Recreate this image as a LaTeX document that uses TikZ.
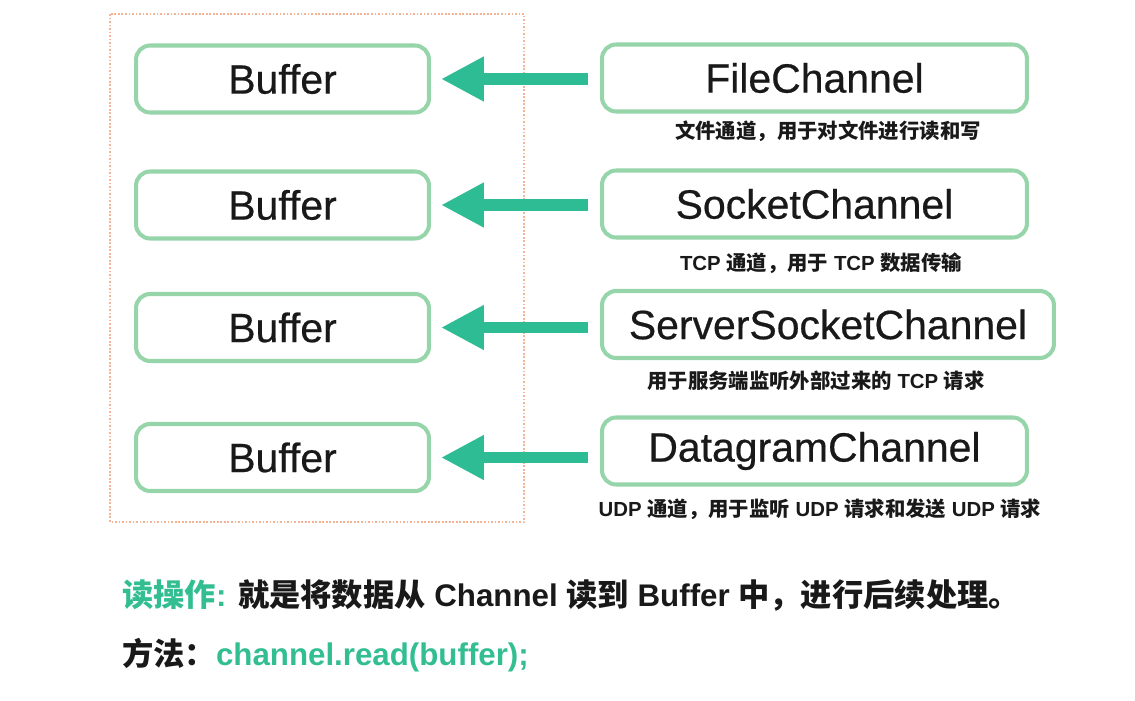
\documentclass[tikz,border=0pt]{standalone}
\usepackage{fontspec}
\setmainfont{Liberation Sans}
\newfontfamily\cjk{Noto Sans CJK SC}
\newfontfamily\boxfont{Liberation Sans}[FakeBold=0.5]
\usetikzlibrary{arrows.meta}
\definecolor{boxgreen}{HTML}{96D4A9}
\definecolor{arrowgreen}{HTML}{2EBC94}
\definecolor{frameorange}{HTML}{F4B495}
\definecolor{textgreen}{HTML}{33BE92}
\newcommand{\zh}[1]{{\cjk #1}}
\begin{document}
\begin{tikzpicture}[x=0.02cm,y=-0.02cm,
  box/.style={draw=boxgreen,line width=2.3pt,rounded corners=8pt,minimum height=1.34cm,
    inner sep=0pt,font=\boxfont\fontsize{23.3}{26}\selectfont,text=black!90},
  bufbox/.style={box,minimum width=5.86cm},
  chanbox/.style={box,minimum width=8.5cm,anchor=west},
  note/.style={font=\bfseries\fontsize{11.6}{14}\selectfont,text=black!90},
  flow/.style={draw=arrowgreen,line width=0.23cm,-{Triangle[length=0.86cm,width=0.84cm]},
    shorten <=0.24cm,shorten >=0.2cm},
  remark/.style={anchor=west,font=\bfseries\fontsize{17.8}{21}\selectfont,text=black!90}]
  \useasboundingbox (0,0) rectangle (1135,700);
  % buffer side
  \draw[frameorange,line width=1pt,dash pattern=on 1pt off 1pt] (110,14) rectangle (524,522);
  \node[bufbox] (b1) at (282.5,79) {Buffer};
  \node[bufbox] (b2) at (282.5,205) {Buffer};
  \node[bufbox] (b3) at (282.5,327.5) {Buffer};
  \node[bufbox] (b4) at (282.5,457.5) {Buffer};
  % channel side
  \node[chanbox] (c1) at (600,78) {FileChannel};
  \node[chanbox] (c2) at (600,204) {SocketChannel};
  \node[chanbox,minimum width=9.04cm] (c3) at (600,324.5) {ServerSocketChannel};
  \node[chanbox] (c4) at (600,451) {DatagramChannel};
  \node[note] (n1) at (828,131) {\zh{文件通道，用于对文件进行读和写}};
  \node[note] (n2) at (821,263) {TCP \zh{通道，用于} TCP \zh{数据传输}};
  \node[note] (n3) at (816,381) {\zh{用于服务端监听外部过来的} TCP \zh{请求}};
  \node[note] (n4) at (820,509) {UDP \zh{通道，用于监听} UDP \zh{请求和发送} UDP \zh{请求}};
  % read direction
  \draw[flow] (c1.west |- b1.east) -- (b1.east);
  \draw[flow] (c2.west |- b2.east) -- (b2.east);
  \draw[flow] (c3.west |- b3.east) -- (b3.east);
  \draw[flow] (c4.west |- b4.east) -- (b4.east);
  % explanation
  \node[remark] (readop) at (116,596) {\textcolor{textgreen}{\zh{读操作}:} \zh{就是将数据从} Channel \zh{读到} Buffer \zh{中，进行后续处理。}};
  \node[remark] (method) at (116,655) {\zh{方法：}\textcolor{textgreen}{channel.read(buffer);}};
\end{tikzpicture}
\end{document}
